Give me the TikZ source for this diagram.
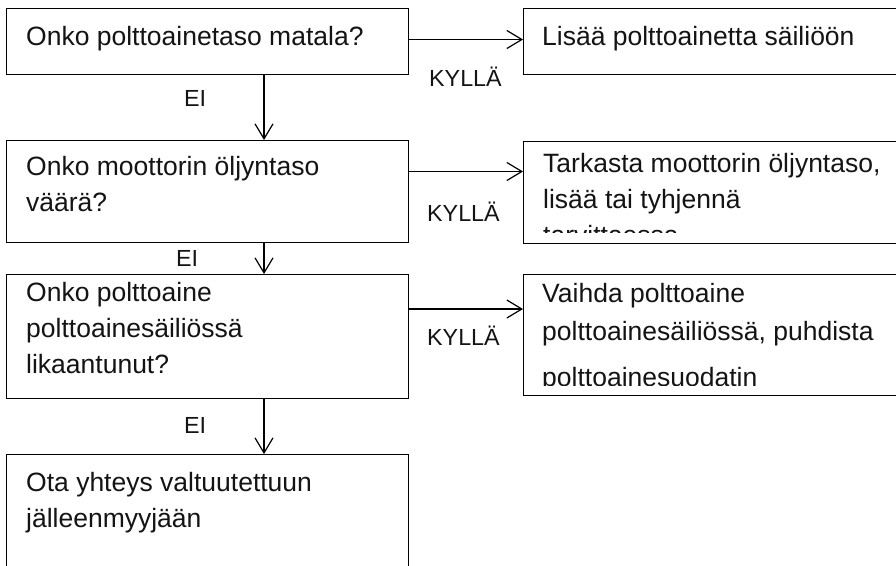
\documentclass[tikz,border=0pt]{standalone}
\usepackage{fontspec}
\setmainfont{Liberation Sans}
\usetikzlibrary{arrows.meta}
\begin{document}
\begin{tikzpicture}[x=1pt,y=-1pt,
  box/.style={draw=black, line width=1.2pt, inner sep=0pt, anchor=north west, fill=none},
  txt/.style={inner sep=0pt, anchor=base west, font=\fontsize{26.5pt}{36pt}\selectfont, text=black!92},
  lab/.style={inner sep=0pt, anchor=base west, font=\fontsize{23.3pt}{28pt}\selectfont, text=black!92},
  arr/.style={draw=black, line width=1.2pt, -{Straight Barb[length=15pt,width=18pt,line width=1.2pt]}}]
\clip (0,0) rectangle (896,565);
\fill[white] (0,0) rectangle (896,565);
% left boxes
\node[box, minimum width=402pt, minimum height=66pt] (L1) at (6,8) {};
\node[box, minimum width=402pt, minimum height=102pt] (L2) at (6,140) {};
\node[box, minimum width=402pt, minimum height=124pt] (L3) at (6,274) {};
\node[box, minimum width=402pt, minimum height=140pt] (L4) at (6,454) {};
% right boxes
\node[box, minimum width=400pt, minimum height=66pt] (R1) at (523,8) {};
\node[box, minimum width=400pt, minimum height=102pt] (R2) at (523,141) {};
\node[box, minimum width=400pt, minimum height=121pt] (R3) at (523,274) {};
% texts
\node[txt] (T1) at (26,45) {\parbox[t]{380pt}{\raggedright Onko polttoainetaso matala?}};
\node[txt] (T2) at (26,175) {\parbox[t]{380pt}{\raggedright Onko moottorin öljyntaso\\väärä?}};
\node[txt] (T3) at (26,301) {\parbox[t]{380pt}{\raggedright Onko polttoaine\\polttoainesäiliössä\\likaantunut?}};
\node[txt] (T4) at (26,491) {\parbox[t]{380pt}{\raggedright Ota yhteys valtuutettuun\\jälleenmyyjään}};
\node[txt] (S1) at (542,45) {\parbox[t]{380pt}{\raggedright Lisää polttoainetta säiliöön}};
\begin{scope}
\clip (524,142) rectangle (896,232);
\node[txt] (S2) at (543,172) {\parbox[t]{380pt}{\raggedright Tarkasta moottorin öljyntaso,\\lisää tai tyhjennä\\tarvittaessa}};
\end{scope}
\begin{scope}
\clip (524,275) rectangle (896,385);
\node[txt] (S3) at (542,302) {\parbox[t]{380pt}{\raggedright Vaihda polttoaine\\[2pt]polttoainesäiliössä, puhdista\\[10pt]polttoainesuodatin}};
\end{scope}
% labels
\node[lab] (E1) at (184,106.5) {EI};
\node[lab] (E2) at (176,266) {EI};
\node[lab] (E3) at (184,433) {EI};
\node[lab] (K1) at (429,86) {KYLLÄ};
\node[lab] (K2) at (427,221.5) {KYLLÄ};
\node[lab] (K3) at (427,345) {KYLLÄ};
% connectors
\coordinate (vx) at (264,0);
\coordinate (h1) at (0,39.5);
\coordinate (h2) at (0,171.5);
\coordinate (h3) at (0,309);
\draw[arr] (L1.south -| vx) -- (L2.north -| vx);
\draw[arr] (L2.south -| vx) -- (L3.north -| vx);
\draw[arr] (L3.south -| vx) -- (L4.north -| vx);
\draw[arr] (L1.east |- h1) -- (R1.west |- h1);
\draw[arr] (L2.east |- h2) -- (R2.west |- h2);
\draw[arr] (L3.east |- h3) -- (R3.west |- h3);
\end{tikzpicture}
\end{document}
